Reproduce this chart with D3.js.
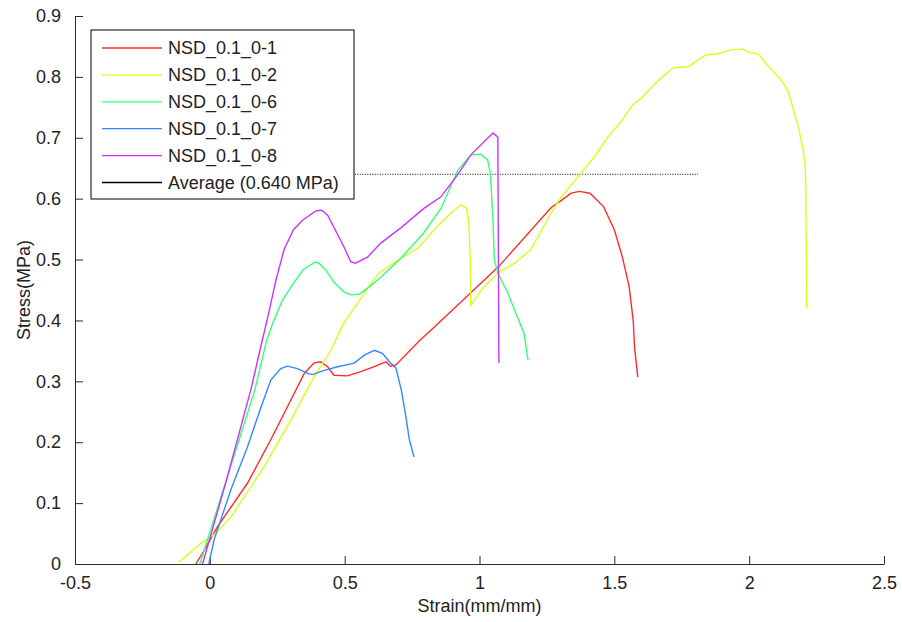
<!DOCTYPE html>
<html lang="en">
<head>
    <meta charset="UTF-8">
    <title>Stress-Strain NSD_0.1</title>
    <style>
        body {
            margin: 0;
            padding: 0;
            background-color: #ffffff;
            font-family: 'Liberation Sans', Arial, sans-serif;
        }
        .axis path, .axis line {
            stroke: #2b2b2b;
            stroke-width: 1px;
        }
        .axis text {
            font-size: 18px;
            fill: #222;
            font-family: 'Liberation Sans', Arial, sans-serif;
        }
        .curve {
            fill: none;
            stroke-width: 1.4px;
        }
        .label {
            font-size: 18px;
            fill: #222;
        }
        .legend text {
            font-size: 18px;
            fill: #222;
        }
    </style>
</head>
<body>
    <div id="chart"></div>

    <script src="https://d3js.org/d3.v7.min.js"></script>
    <script>
        const width = 902;
        const height = 622;
        const margin = { top: 16, right: 18, bottom: 58, left: 75 };

        // strain (mm/mm) / stress (MPa)
        const s1Strain = [-0.052, -0.02, 0.028, 0.14, 0.226, 0.30, 0.35, 0.386, 0.41, 0.437, 0.46, 0.51, 0.56, 0.61, 0.653, 0.67, 0.69, 0.78, 0.82, 1.07, 1.265, 1.30, 1.34, 1.37, 1.41, 1.46, 1.50, 1.53, 1.555, 1.57, 1.575, 1.587];
        const s1Stress = [0, 0.023, 0.061, 0.133, 0.204, 0.269, 0.313, 0.33, 0.332, 0.324, 0.31, 0.309, 0.316, 0.324, 0.332, 0.325, 0.327, 0.368, 0.384, 0.488, 0.585, 0.596, 0.609, 0.612, 0.609, 0.587, 0.549, 0.504, 0.455, 0.40, 0.356, 0.307];

        const s2Strain = [-0.115, -0.096, -0.033, 0.015, 0.078, 0.2, 0.30, 0.386, 0.449, 0.497, 0.549, 0.585, 0.627, 0.671, 0.708, 0.772, 0.82, 0.857, 0.894, 0.93, 0.95, 0.96, 0.965, 0.968, 0.98, 1.016, 1.068, 1.13, 1.19, 1.265, 1.30, 1.376, 1.425, 1.476, 1.524, 1.568, 1.60, 1.636, 1.673, 1.72, 1.777, 1.81, 1.84, 1.884, 1.93, 1.977, 1.995, 2.036, 2.06, 2.118, 2.143, 2.162, 2.185, 2.2, 2.207, 2.21, 2.213];
        const s2Stress = [0.003, 0.01, 0.034, 0.048, 0.077, 0.159, 0.236, 0.307, 0.351, 0.396, 0.429, 0.453, 0.478, 0.491, 0.502, 0.519, 0.543, 0.561, 0.576, 0.59, 0.585, 0.565, 0.51, 0.425, 0.433, 0.455, 0.478, 0.494, 0.516, 0.576, 0.601, 0.642, 0.668, 0.701, 0.726, 0.754, 0.765, 0.782, 0.798, 0.815, 0.817, 0.828, 0.836, 0.838, 0.844, 0.846, 0.841, 0.837, 0.823, 0.795, 0.778, 0.75, 0.713, 0.68, 0.658, 0.626, 0.42];

        const s6Strain = [-0.037, 0.07, 0.167, 0.211, 0.234, 0.27, 0.31, 0.345, 0.39, 0.404, 0.43, 0.46, 0.497, 0.523, 0.553, 0.585, 0.634, 0.708, 0.794, 0.857, 0.92, 0.968, 1.005, 1.03, 1.04, 1.05, 1.055, 1.068, 1.105, 1.14, 1.165, 1.18];
        const s6Stress = [0, 0.15, 0.286, 0.368, 0.396, 0.434, 0.461, 0.483, 0.496, 0.494, 0.483, 0.463, 0.447, 0.442, 0.443, 0.453, 0.471, 0.502, 0.544, 0.584, 0.647, 0.672, 0.673, 0.664, 0.642, 0.565, 0.5, 0.478, 0.445, 0.406, 0.379, 0.335];

        const s7Strain = [-0.004, 0.016, 0.078, 0.14, 0.19, 0.226, 0.263, 0.288, 0.325, 0.363, 0.38, 0.424, 0.474, 0.535, 0.573, 0.61, 0.64, 0.67, 0.69, 0.71, 0.727, 0.74, 0.757];
        const s7Stress = [0, 0.04, 0.122, 0.193, 0.258, 0.302, 0.321, 0.325, 0.321, 0.313, 0.311, 0.318, 0.324, 0.33, 0.343, 0.351, 0.346, 0.33, 0.322, 0.286, 0.242, 0.204, 0.176];

        const s8Strain = [-0.027, 0.06, 0.152, 0.18, 0.215, 0.245, 0.275, 0.31, 0.345, 0.393, 0.415, 0.437, 0.46, 0.497, 0.523, 0.54, 0.585, 0.634, 0.708, 0.794, 0.857, 0.92, 0.968, 1.05, 1.068, 1.072];
        const s8Stress = [0, 0.135, 0.286, 0.34, 0.406, 0.466, 0.516, 0.549, 0.565, 0.58, 0.581, 0.573, 0.553, 0.521, 0.496, 0.494, 0.504, 0.527, 0.552, 0.584, 0.603, 0.64, 0.672, 0.708, 0.701, 0.33];

        const seriesNames = ["NSD_0.1_0-1", "NSD_0.1_0-2", "NSD_0.1_0-6", "NSD_0.1_0-7", "NSD_0.1_0-8"];
        const seriesColors = ["#ff2b2b", "#d4ff1a", "#33ff77", "#3388ff", "#cc33ff"];
        const averageValue = 0.640;
        const averageRange = [0, 1.81];

        const xTicks = [-0.5, 0, 0.5, 1, 1.5, 2, 2.5];
        const yTicks = [0, 0.1, 0.2, 0.3, 0.4, 0.5, 0.6, 0.7, 0.8, 0.9];

        const strains = [s1Strain, s2Strain, s6Strain, s7Strain, s8Strain];
        const stresses = [s1Stress, s2Stress, s6Stress, s7Stress, s8Stress];
        const series = seriesNames.map((name, i) => ({
            name: name,
            color: seriesColors[i],
            points: strains[i].map((x, j) => [x, stresses[i][j]])
        }));

        const svg = d3.select('#chart')
            .append('svg')
            .attr('width', width)
            .attr('height', height);

        const x = d3.scaleLinear().domain([-0.5, 2.5]).range([margin.left, width - margin.right]);
        const y = d3.scaleLinear().domain([0, 0.9]).range([height - margin.bottom, margin.top]);

        // axes, ticks pointing inward, plain hyphen for negatives like the original
        svg.append('g')
            .attr('class', 'axis')
            .attr('transform', `translate(0,${y(0)})`)
            .call(d3.axisBottom(x).tickValues(xTicks).tickSizeInner(-8).tickSizeOuter(0).tickPadding(14)
                .tickFormat(d => String(d)))
            .call(g => g.selectAll('text').attr('dy', '0.6em'));

        svg.append('g')
            .attr('class', 'axis')
            .attr('transform', `translate(${x(-0.5)},0)`)
            .call(d3.axisLeft(y).tickValues(yTicks).tickSizeInner(-8).tickSizeOuter(0).tickPadding(14)
                .tickFormat(d => String(d)));

        const line = d3.line()
            .x(d => x(d[0]))
            .y(d => y(d[1]));

        // average line (dotted)
        svg.append('path')
            .attr('d', line([[averageRange[0], averageValue], [averageRange[1], averageValue]]))
            .attr('fill', 'none')
            .attr('stroke', '#000')
            .attr('stroke-width', 1)
            .attr('stroke-dasharray', '1,1.5');

        svg.selectAll('.curve')
            .data(series)
            .enter().append('path')
            .attr('class', 'curve')
            .attr('stroke', d => d.color)
            .attr('d', d => line(d.points));

        // axis labels
        svg.append('text')
            .attr('class', 'label')
            .attr('x', (x(-0.5) + x(2.5)) / 2)
            .attr('y', 612)
            .attr('text-anchor', 'middle')
            .text('Strain(mm/mm)');

        svg.append('text')
            .attr('class', 'label')
            .attr('transform', `translate(30,${(y(0) + y(0.9)) / 2}) rotate(-90)`)
            .attr('text-anchor', 'middle')
            .text('Stress(MPa)');

        // legend
        const legendItems = series.map(s => ({ name: s.name, color: s.color }))
            .concat([{ name: 'Average (0.640 MPa)', color: '#000' }]);

        const legend = svg.append('g')
            .attr('class', 'legend')
            .attr('transform', 'translate(91,30)');

        legend.append('rect')
            .attr('width', 263)
            .attr('height', 169)
            .attr('fill', '#fff')
            .attr('stroke', '#000')
            .attr('stroke-width', 1);

        const rows = legend.selectAll('.row')
            .data(legendItems)
            .enter().append('g')
            .attr('class', 'row')
            .attr('transform', (d, i) => `translate(0,${18 + i * 26.9})`);

        rows.append('line')
            .attr('x1', 11)
            .attr('x2', 71)
            .attr('stroke', d => d.color)
            .attr('stroke-width', 1.3);

        rows.append('text')
            .attr('x', 77)
            .attr('dy', '0.35em')
            .text(d => d.name);
    </script>
</body>
</html>
